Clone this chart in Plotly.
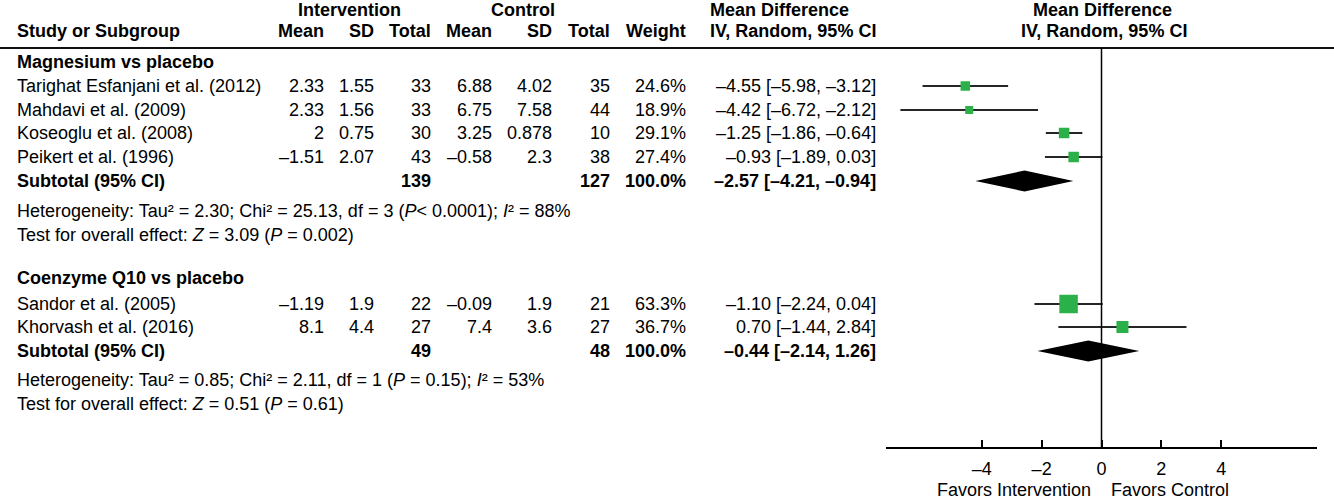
import plotly.graph_objects as go

# ---------------- data ----------------
group_names = ["Magnesium vs placebo", "Coenzyme Q10 vs placebo"]
study_names = ["Tarighat Esfanjani et al. (2012)", "Mahdavi et al. (2009)",
               "Koseoglu et al. (2008)", "Peikert et al. (1996)",
               "Sandor et al. (2005)", "Khorvash et al. (2016)"]
study_group = [0, 0, 0, 0, 1, 1]
int_mean = [2.33, 2.33, 2, -1.51, -1.19, 8.1]
int_sd = [1.55, 1.56, 0.75, 2.07, 1.9, 4.4]
int_n = [33, 33, 30, 43, 22, 27]
ctl_mean = [6.88, 6.75, 3.25, -0.58, -0.09, 7.4]
ctl_sd = [4.02, 7.58, 0.878, 2.3, 1.9, 3.6]
ctl_n = [35, 44, 10, 38, 21, 27]
weight = [24.6, 18.9, 29.1, 27.4, 63.3, 36.7]
md = [-4.55, -4.42, -1.25, -0.93, -1.10, 0.70]
md_lo = [-5.98, -6.72, -1.86, -1.89, -2.24, -1.44]
md_hi = [-3.12, -2.12, -0.64, 0.03, 0.04, 2.84]

sub_int_n = [139, 49]
sub_ctl_n = [127, 48]
sub_weight = [100.0, 100.0]
sub_md = [-2.57, -0.44]
sub_lo = [-4.21, -2.14]
sub_hi = [-0.94, 1.26]

het_tau2 = [2.30, 0.85]
het_chi2 = [25.13, 2.11]
het_df = [3, 1]
het_p_op = ["<", "="]
het_p_val = ["0.0001", "0.15"]
het_i2 = [88, 53]
z_val = [3.09, 0.51]
z_p = ["0.002", "0.61"]

x_ticks = [-4, -2, 0, 2, 4]
x_tick_labels = ["–4", "–2", "0", "2", "4"]

# ---------------- layout / style ----------------
W, H = 1334, 500
AXIS_Y = 447
HEADER_LINE_Y = 48
FS = 18
FONT = "Liberation Sans, Arial, Helvetica, sans-serif"
GREEN = "#2bb04a"
CI_COLOR = "#262626"

head_row_y = [10, 31]
study_row_y = [86, 110, 133, 157, 304, 327]
group_row_y = [62, 278]
sub_row_y = [181, 351]
het_row_y = [211, 380]
test_row_y = [235, 404]
favors_y = 490
marker_px = [9.5, 8, 10.5, 10.5, 18.5, 12]
DIAMOND_HALF = 10.5

col = dict(name=16, int_mean=325, int_sd=375, int_n=432, ctl_mean=493,
           ctl_sd=553, ctl_n=611, weight=687, ci=877, ci_head=709)


def num(v):
    return str(v).replace("-", "–")


def f2(v):
    return f"{v:.2f}".replace("-", "–")


def ci_text(m, lo, hi):
    return f"{f2(m)} [{f2(lo)}, {f2(hi)}]"


fig = go.Figure()


def txt(s, x, y, anchor="right", bold=False):
    fig.add_annotation(text=f"<b>{s}</b>" if bold else s, x=x / W, xref="paper",
                       y=1 - y / H, yref="paper", xanchor=anchor, yanchor="middle",
                       showarrow=False, borderpad=0,
                       font=dict(size=FS, family=FONT, color="black"))


# headers
h1, h2 = head_row_y
txt("Intervention", 350, h1, "center", True)
txt("Control", 523, h1, "center", True)
txt("Mean Difference", col["ci_head"], h1, "left", True)
txt("Mean Difference", 1102, h1, "center", True)
txt("Study or Subgroup", col["name"], h2, "left", True)
for key, lab in [("int_mean", "Mean"), ("int_sd", "SD"), ("int_n", "Total"),
                 ("ctl_mean", "Mean"), ("ctl_sd", "SD"), ("ctl_n", "Total"),
                 ("weight", "Weight")]:
    txt(lab, col[key], h2, "right", True)
txt("IV, Random, 95% CI", col["ci_head"], h2, "left", True)
txt("IV, Random, 95% CI", 1104, h2, "center", True)

# group blocks
for g, gname in enumerate(group_names):
    txt(gname, col["name"], group_row_y[g], "left", True)
    for i, s in enumerate(study_names):
        if study_group[i] != g:
            continue
        y = study_row_y[i]
        txt(s, col["name"], y, "left")
        txt(num(int_mean[i]), col["int_mean"], y)
        txt(num(int_sd[i]), col["int_sd"], y)
        txt(num(int_n[i]), col["int_n"], y)
        txt(num(ctl_mean[i]), col["ctl_mean"], y)
        txt(num(ctl_sd[i]), col["ctl_sd"], y)
        txt(num(ctl_n[i]), col["ctl_n"], y)
        txt(f"{weight[i]:.1f}%", col["weight"], y)
        txt(ci_text(md[i], md_lo[i], md_hi[i]), col["ci"], y)
    y = sub_row_y[g]
    txt("Subtotal (95% CI)", col["name"], y, "left", True)
    txt(str(sub_int_n[g]), col["int_n"], y, "right", True)
    txt(str(sub_ctl_n[g]), col["ctl_n"], y, "right", True)
    txt(f"{sub_weight[g]:.1f}%", col["weight"], y, "right", True)
    txt(ci_text(sub_md[g], sub_lo[g], sub_hi[g]), col["ci"], y, "right", True)
    p_sep = "" if het_p_op[g] == "<" else " "
    op = "&lt;" if het_p_op[g] == "<" else "="
    het = (f"Heterogeneity: Tau² = {het_tau2[g]:.2f}; Chi² = {het_chi2[g]:.2f}, "
           f"df = {het_df[g]} (<i>P</i>{p_sep}{op} {het_p_val[g]}); <i>I</i>² = {het_i2[g]}%")
    txt(het, col["name"], het_row_y[g], "left")
    txt(f"Test for overall effect: <i>Z</i> = {z_val[g]:.2f} (<i>P</i> = {z_p[g]})",
        col["name"], test_row_y[g], "left")

# study estimates with CIs
fig.add_trace(go.Scatter(
    x=md, y=study_row_y, mode="markers",
    marker=dict(symbol="square", size=marker_px, color=GREEN, opacity=1,
                line=dict(width=0)),
    error_x=dict(type="data", symmetric=False,
                 array=[h - m for h, m in zip(md_hi, md)],
                 arrayminus=[m - l for m, l in zip(md, md_lo)],
                 width=0, thickness=2, color=CI_COLOR),
    hoverinfo="skip", showlegend=False))

# subtotal diamonds
for g in range(len(group_names)):
    y = sub_row_y[g]
    fig.add_trace(go.Scatter(
        x=[sub_lo[g], sub_md[g], sub_hi[g], sub_md[g], sub_lo[g]],
        y=[y, y - DIAMOND_HALF, y, y + DIAMOND_HALF, y],
        mode="lines", fill="toself", fillcolor="black",
        line=dict(width=0, color="black"), hoverinfo="skip", showlegend=False))

# lines
fig.add_shape(type="line", xref="paper", yref="y", x0=0, x1=1,
              y0=HEADER_LINE_Y, y1=HEADER_LINE_Y, line=dict(color="#111", width=2))
fig.add_shape(type="line", xref="x", yref="y", x0=0, x1=0,
              y0=HEADER_LINE_Y, y1=AXIS_Y, line=dict(color="black", width=1.5))

txt("Favors Intervention", 1092, favors_y, "right")
txt("Favors Control", 1110, favors_y, "left")

fig.update_layout(
    width=W, height=H, margin=dict(l=0, r=0, t=0, b=0),
    paper_bgcolor="white", plot_bgcolor="white", showlegend=False,
    font=dict(family=FONT, size=FS, color="black"),
    xaxis=dict(domain=[886 / W, 1317 / W], range=[-7.2, 7.2],
               tickvals=x_ticks, ticktext=x_tick_labels,
               ticks="inside", ticklen=7, tickwidth=1.5, tickcolor="black",
               showline=True, linecolor="black", linewidth=1.5,
               showgrid=False, zeroline=False, fixedrange=True,
               ticklabelstandoff=5,
               tickfont=dict(size=FS, family=FONT, color="black")),
    yaxis=dict(domain=[(H - AXIS_Y) / H, 1], range=[AXIS_Y, 0],
               visible=False, fixedrange=True),
)

fig.write_html("out.html", config={"displayModeBar": False},
               post_script="document.body.style.margin='0';"
                           "document.body.style.overflow='hidden';")
